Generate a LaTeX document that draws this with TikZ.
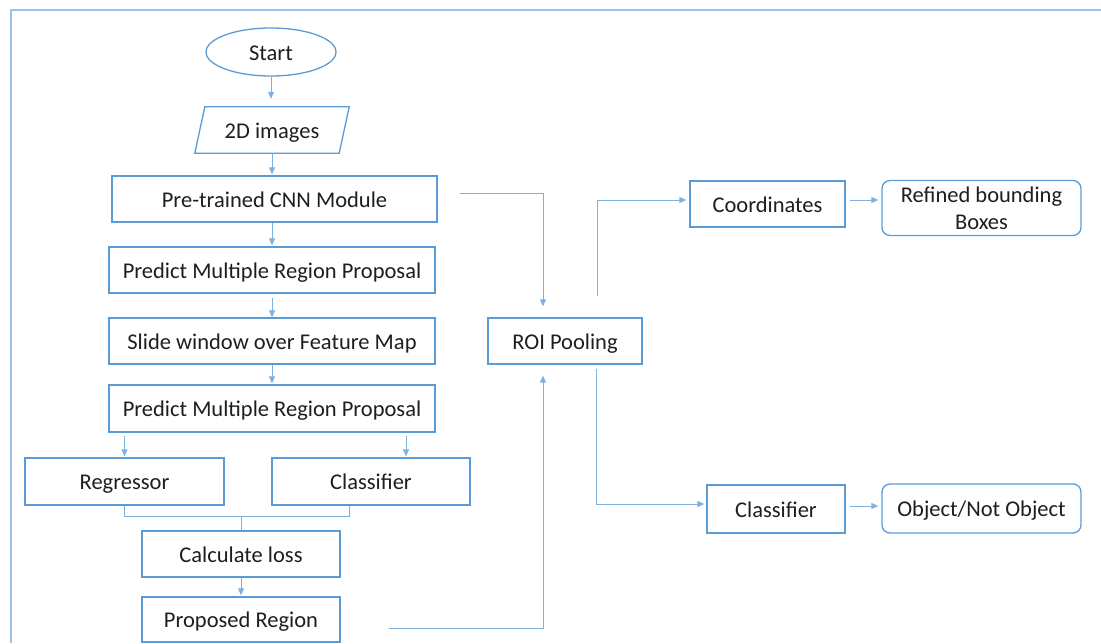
\documentclass[tikz,border=0pt]{standalone}
\usepackage{fontspec}
\setmainfont{Carlito}
\usetikzlibrary{arrows.meta,shapes.geometric}
\definecolor{boxblue}{HTML}{5B9BD5}
\definecolor{lineblue}{HTML}{7FB1E0}
\definecolor{frameblue}{HTML}{9DC3E6}
\definecolor{txt}{HTML}{1E1E1E}
\begin{document}
\begin{tikzpicture}[x=1pt,y=-1pt,
  every node/.style={font=\fontsize{22.5}{27}\selectfont, text=txt},
  fixt/.style={text height=19pt, text depth=3pt},
  box/.style={draw=boxblue, line width=1.3pt, inner sep=0pt},
  rbox/.style={box, rounded corners=8pt},
  arr/.style={draw=lineblue, line width=0.9pt, -{Triangle[length=7pt,width=6pt]}},
  link/.style={draw=lineblue, line width=0.9pt}]
\useasboundingbox (0,0) rectangle (1101,643);
% frame
\draw[frameblue, line width=2pt] (11,643) -- (11,10) -- (1101,10);

% nodes
\node[ellipse, box, fixt, minimum width=130pt, minimum height=48pt] (start) at (271,52) {Start};
\node[inner sep=0pt, fixt, minimum width=144pt, minimum height=46pt] (img) at (272,130) {2D images};
\draw[boxblue, line width=1.3pt] ([xshift=-5pt]img.south west) -- ([xshift=-5pt]img.south east)
  -- ([xshift=5pt]img.north east) -- ([xshift=5pt]img.north west) -- cycle;
\node[box, fixt, minimum width=325pt, minimum height=46pt] (cnn) at (274.5,199) {Pre-trained CNN Module};
\node[box, fixt, minimum width=326pt, minimum height=46pt] (p1) at (272,270) {Predict Multiple Region Proposal};
\node[box, fixt, minimum width=326pt, minimum height=46pt] (slide) at (272,341) {Slide window over Feature Map};
\node[box, fixt, minimum width=326pt, minimum height=47pt] (p2) at (272,408.5) {Predict Multiple Region Proposal};
\node[box, fixt, minimum width=199pt, minimum height=47pt] (reg) at (124.5,481.5) {Regressor};
\node[box, fixt, minimum width=198pt, minimum height=47pt] (cls) at (371,481.5) {Classifier};
\node[box, fixt, minimum width=198pt, minimum height=46pt] (loss) at (241,554) {Calculate loss};
\node[box, fixt, minimum width=198pt, minimum height=45pt] (prop) at (241,619.5) {Proposed Region};
\node[box, fixt, minimum width=154pt, minimum height=46pt] (roi) at (565,341) {ROI Pooling};
\node[box, fixt, minimum width=155pt, minimum height=46pt] (coord) at (767.5,204) {Coordinates};
\node[rbox, minimum width=199pt, minimum height=55pt, align=center] (refined) at (981.5,208) {Refined bounding\\Boxes};
\node[box, fixt, minimum width=138pt, minimum height=48pt] (cls2) at (776,509) {Classifier};
\node[rbox, fixt, minimum width=199pt, minimum height=49pt] (obj) at (981.5,508.5) {Object/Not Object};

\coordinate (clsin) at ([xshift=35pt]cls.north);

% connectors
\draw[arr, shorten >=8pt] (start.south) -- (start.south |- img.north);
\draw[arr, shorten >=1pt] (img.south) -- (img.south |- cnn.north);
\draw[arr, shorten >=1pt] (cnn.south -| p1.north) -- (p1.north);
\draw[arr, shorten <=4pt] (p1.south) -- (slide.north);
\draw[arr, shorten >=1pt] (slide.south) -- (p2.north);
\draw[arr, shorten <=3pt, shorten >=1pt] (p2.south -| reg.north) -- (reg.north);
\draw[arr, shorten <=3pt, shorten >=1pt] (p2.south -| clsin) -- (clsin);
\draw[link] (reg.south) -- ++(0,11) -| ([xshift=-22pt]cls.south);
\draw[link] (loss.north) -- ++(0,-14);
\draw[arr, shorten >=1pt] (loss.south) -- (prop.north);
\draw[arr, shorten <=48pt, shorten >=11pt] ([yshift=-9pt]prop.east) -| ([xshift=-22pt]roi.south);
\draw[arr, shorten <=22pt, shorten >=11pt] ([yshift=6pt]cnn.east) -| ([xshift=-22pt]roi.north);
\draw[arr, shorten <=21pt, shorten >=3pt] ([xshift=32pt]roi.north) |- ([yshift=4pt]coord.west);
\draw[arr, shorten <=4pt, shorten >=2pt] ([xshift=31pt]roi.south) |- ([yshift=5pt]cls2.west);
\draw[arr, shorten <=4pt, shorten >=3pt] ([yshift=4pt]coord.east) -- ([yshift=4pt]coord.east -| refined.west);
\draw[arr, shorten <=4pt, shorten >=3pt] ([yshift=3pt]cls2.east) -- ([yshift=3pt]cls2.east -| obj.west);
\end{tikzpicture}
\end{document}
